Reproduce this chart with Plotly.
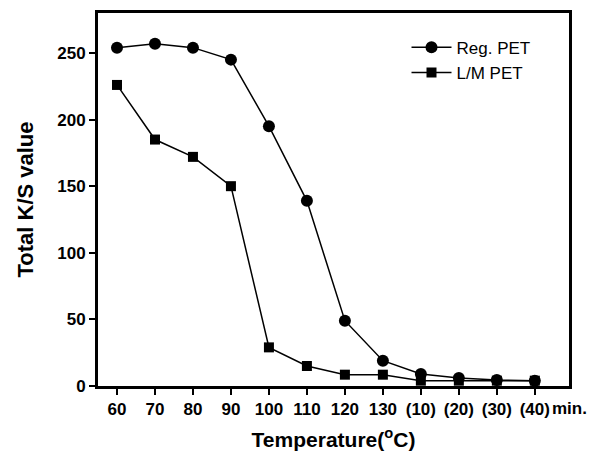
import plotly.graph_objects as go

categories = ["60", "70", "80", "90", "100", "110", "120", "130", "(10)", "(20)", "(30)", "(40)"]
reg_pet = [254, 257, 254, 245, 195, 139, 49, 19, 9, 6, 4.5, 4]
lm_pet = [226, 185, 172, 150, 29, 15, 8.5, 8.5, 4, 4, 4, 4]

xpos = list(range(len(categories)))
font_family = "Liberation Sans, Arial, sans-serif"

fig = go.Figure()
fig.add_trace(go.Scatter(x=xpos, y=reg_pet, mode="lines+markers", name="Reg. PET",
                         line=dict(color="black", width=1.5),
                         marker=dict(symbol="circle", size=12, color="black")))
fig.add_trace(go.Scatter(x=xpos, y=lm_pet, mode="lines+markers", name="L/M PET",
                         line=dict(color="black", width=1.5),
                         marker=dict(symbol="square", size=10, color="black")))

fig.add_annotation(x=11, y=0, xref="x", yref="paper", text="min.", showarrow=False,
                   xanchor="left", yanchor="top", xshift=15, yshift=-11,
                   font=dict(family=font_family, size=17, color="black", weight="bold"))

fig.update_layout(
    width=600, height=461,
    margin=dict(l=90, r=39, t=2, b=83),
    plot_bgcolor="white", paper_bgcolor="white",
    showlegend=True,
    legend=dict(x=0.655, y=0.955, xanchor="left", yanchor="top",
                bgcolor="rgba(0,0,0,0)",
                font=dict(family=font_family, size=17, color="black"),
                tracegroupgap=0, itemwidth=40),
    xaxis=dict(
        range=[-0.5, 11.9],
        tickmode="array", tickvals=xpos, ticktext=categories,
        showline=True, linecolor="black", linewidth=3, mirror=True,
        ticks="outside", ticklen=6, tickwidth=1.5, tickcolor="black",
        showgrid=False, zeroline=False,
        tickfont=dict(family=font_family, size=17, color="black", weight="bold"),
        title=dict(text="Temperature(<sup>o</sup>C)", standoff=14,
                   font=dict(family=font_family, size=21, color="black", weight="bold")),
    ),
    yaxis=dict(
        range=[0, 280],
        tickmode="array", tickvals=[0, 50, 100, 150, 200, 250],
        showline=True, linecolor="black", linewidth=3, mirror=True,
        ticks="outside", ticklen=6, tickwidth=1.5, tickcolor="black",
        showgrid=False, zeroline=False,
        tickfont=dict(family=font_family, size=17, color="black", weight="bold"),
        title=dict(text="Total K/S value", standoff=18,
                   font=dict(family=font_family, size=22, color="black", weight="bold")),
    ),
)

fig.write_html("out.html")
